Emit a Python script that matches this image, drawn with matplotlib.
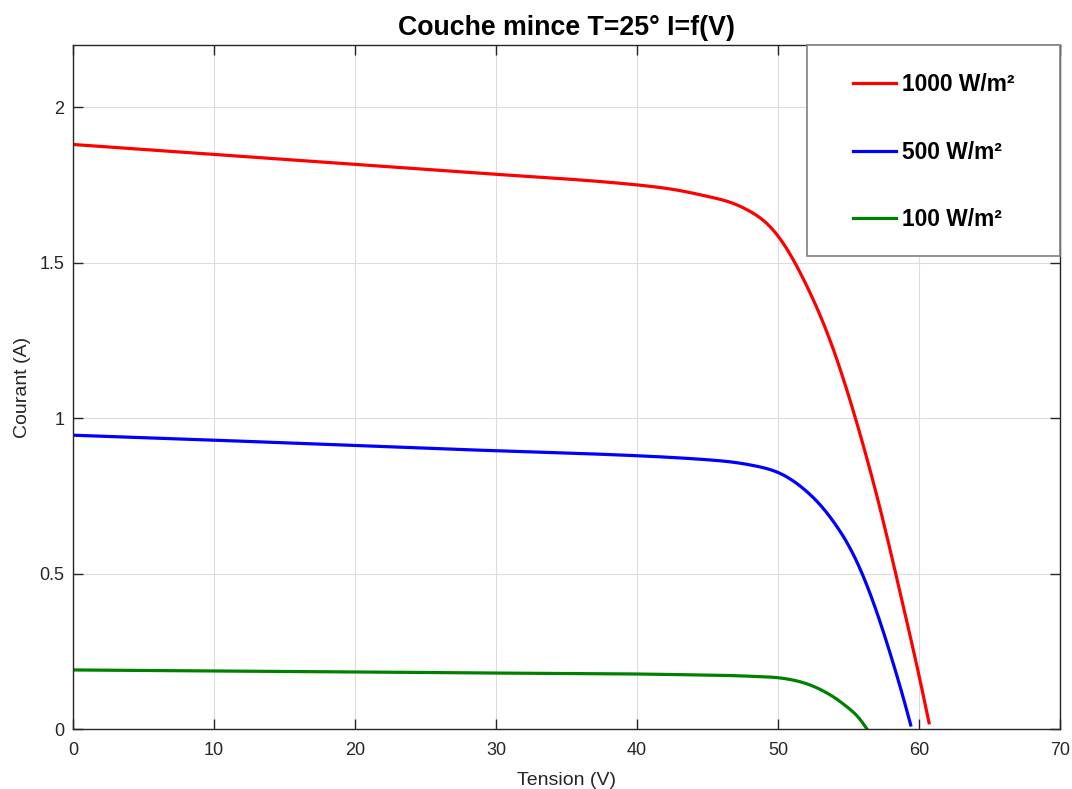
import numpy as np
import matplotlib
matplotlib.use("Agg")
import matplotlib.pyplot as plt
from matplotlib.patches import Rectangle

plt.rcParams["font.family"] = ["Liberation Sans", "DejaVu Sans"]

# ── I(V) curves ────────────────────────────────────────────────────────────
v_1000 = [0, 10, 20, 30, 40, 43, 45, 46.6, 48, 49, 50, 51, 52, 53, 54, 55, 56, 57, 58, 59, 60, 60.7]
i_1000 = [1.880, 1.848, 1.816, 1.784, 1.750, 1.732, 1.713, 1.694, 1.665, 1.634, 1.585, 1.515,
          1.428, 1.328, 1.21, 1.072, 0.918, 0.75, 0.565, 0.37, 0.17, 0.02]

v_500 = [0, 10, 20, 30, 40, 43, 45, 47, 48.5, 50, 51, 52, 53, 54, 55, 56, 57, 58, 59, 59.4]
i_500 = [0.945, 0.929, 0.912, 0.895, 0.879, 0.872, 0.866, 0.857, 0.845, 0.825, 0.80, 0.765,
         0.72, 0.662, 0.59, 0.495, 0.375, 0.235, 0.08, 0.013]

v_100 = [0, 10, 20, 30, 40, 43, 45, 47, 48.5, 50, 51, 52, 53, 54, 55, 55.7, 56.3]
i_100 = [0.190, 0.187, 0.184, 0.180, 0.177, 0.175, 0.1735, 0.1715, 0.169, 0.165, 0.158, 0.146,
         0.127, 0.101, 0.067, 0.037, 0.0]

labels = ["1000 W/m²", "500 W/m²", "100 W/m²"]
colors = ["#ff0000", "#0000ff", "#008000"]


def spline(v, i, n=800):
    # natural cubic spline through the read points
    v = np.asarray(v, float); i = np.asarray(i, float)
    N = len(v); h = np.diff(v)
    A = np.zeros((N, N)); b = np.zeros(N)
    A[0, 0] = A[-1, -1] = 1
    for k in range(1, N - 1):
        A[k, k - 1] = h[k - 1]; A[k, k] = 2 * (h[k - 1] + h[k]); A[k, k + 1] = h[k]
        b[k] = 3 * ((i[k + 1] - i[k]) / h[k] - (i[k] - i[k - 1]) / h[k - 1])
    c = np.linalg.solve(A, b)
    bb = (i[1:] - i[:-1]) / h - h * (2 * c[:-1] + c[1:]) / 3
    dd = (c[1:] - c[:-1]) / (3 * h)
    xs = np.linspace(v[0], v[-1], n)
    idx = np.clip(np.searchsorted(v, xs, side="right") - 1, 0, N - 2)
    t = xs - v[idx]
    return xs, i[idx] + bb[idx] * t + c[idx] * t**2 + dd[idx] * t**3


fig = plt.figure(figsize=(10.72, 7.89), dpi=100)
ax = fig.add_axes([0.068, 0.076, 0.921, 0.867])

for v, i, lab, c in zip([v_1000, v_500, v_100], [i_1000, i_500, i_100], labels, colors):
    xs, ys = spline(v, i)
    ax.plot(xs, ys, color=c, linewidth=2.3, label=lab)

ax.set_xlim(0, 70)
ax.set_ylim(0, 2.2)
ax.set_xticks(range(0, 71, 10))
ax.set_yticks([0, 0.5, 1, 1.5, 2])
ax.set_yticklabels(["0", "0.5", "1", "1.5", "2"])
ax.grid(True, color="#dcdcdc", linewidth=0.8)
ax.set_axisbelow(True)
ax.tick_params(direction="in", top=True, right=True, length=7, width=1,
               colors="#262626", labelsize=13)
ax.tick_params(axis="x", pad=9)
ax.tick_params(axis="y", pad=6)
for s in ax.spines.values():
    s.set_color("#262626")
    s.set_linewidth(1)

ax.set_xlabel("Tension (V)", fontsize=14, color="#262626", labelpad=10)
ax.set_ylabel("Courant (A)", fontsize=14, color="#262626", labelpad=6)
ax.set_title("Couche mince T=25° I=f(V)", fontsize=19.3, fontweight="bold", pad=7)

# legend box (MATLAB style, touching the upper right corner)
ax.add_patch(Rectangle((0.7437, 0.6915), 0.2563, 0.3085, transform=ax.transAxes,
                       facecolor="white", edgecolor="#7f7f7f", linewidth=1.2,
                       zorder=4, clip_on=False))
leg = ax.legend(loc="center", bbox_to_anchor=(0.872, 0.843), borderaxespad=0,
                prop={"weight": "bold", "size": 16.4}, frameon=False,
                labelspacing=1.95, handlelength=1.9, handletextpad=0.25,
                borderpad=0)
leg.set_zorder(5)

fig.savefig("out.png")
